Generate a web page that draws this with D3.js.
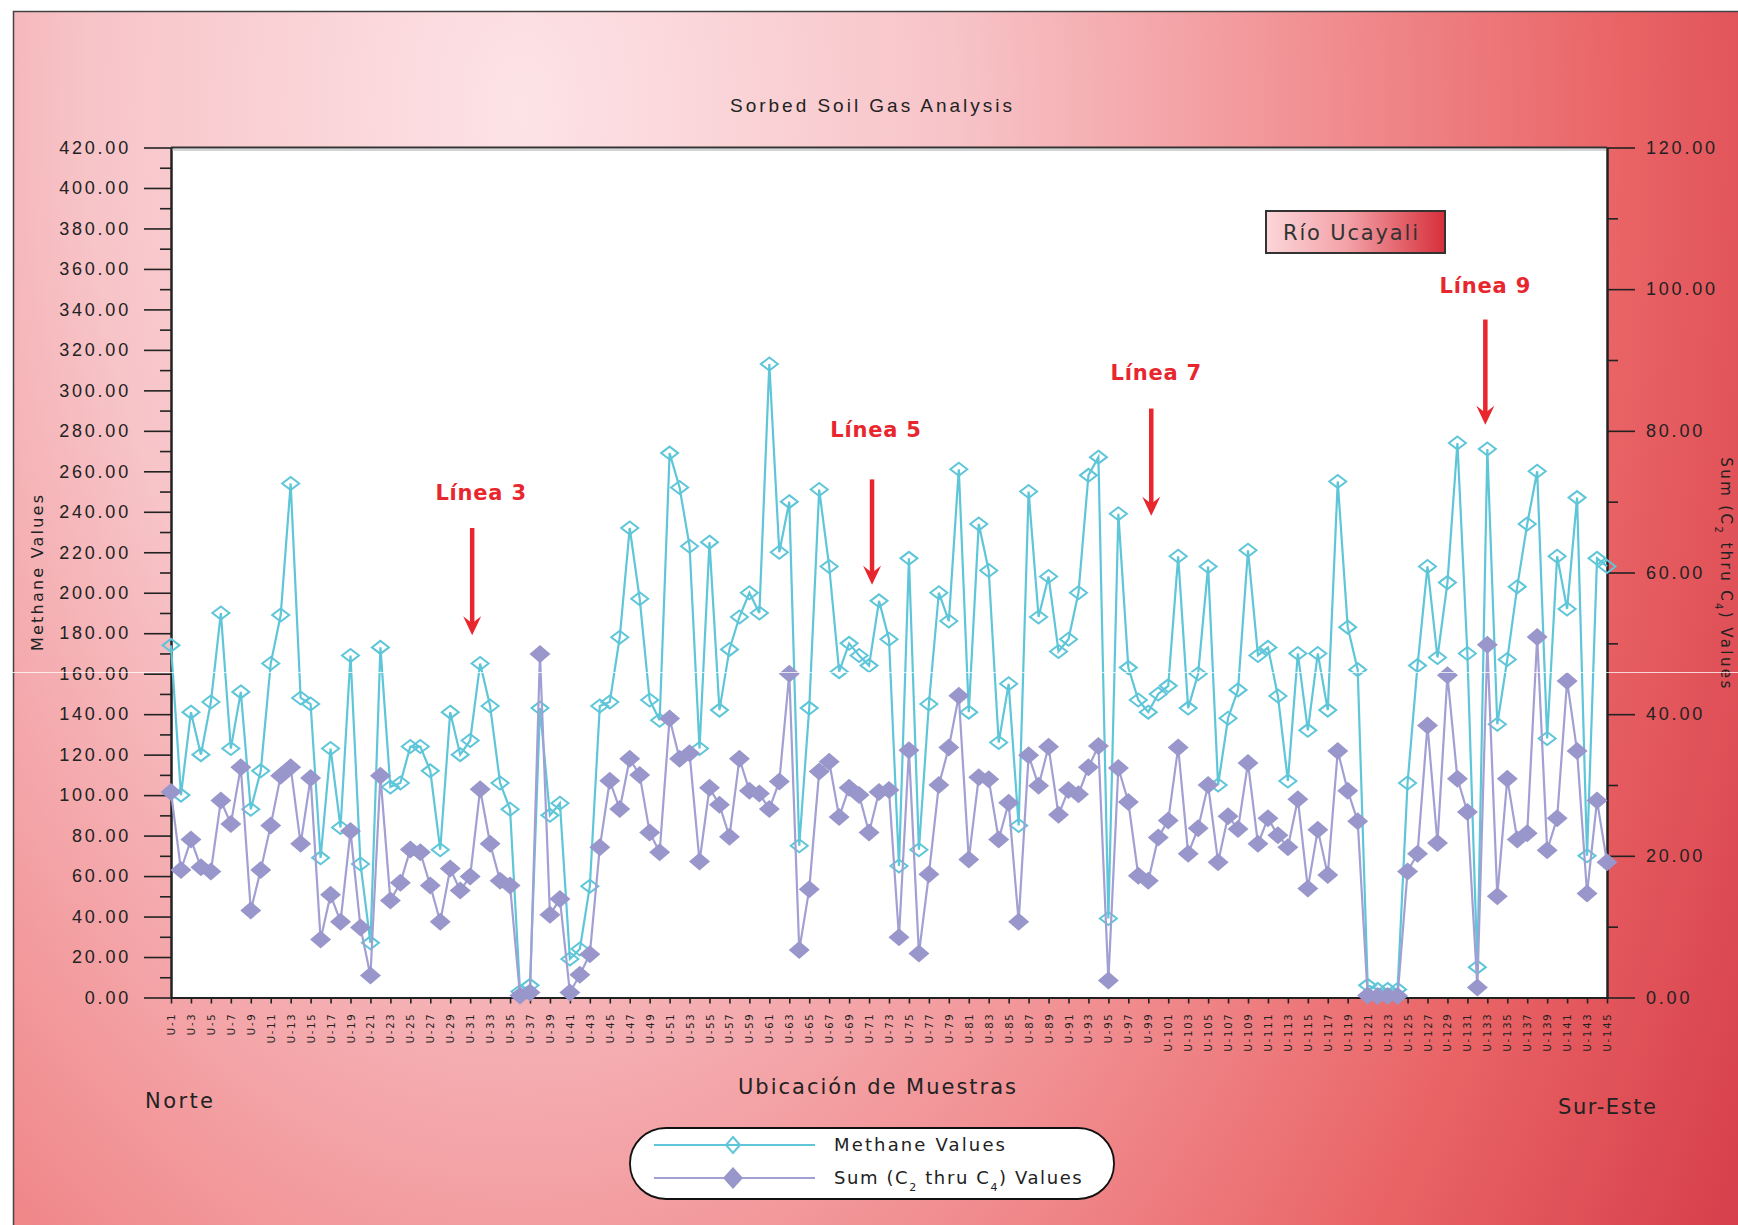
<!DOCTYPE html>
<html>
<head>
<meta charset="utf-8">
<script src="https://cdn.jsdelivr.net/npm/d3@7"></script>
<style>
  html, body { margin: 0; padding: 0; background: #ffffff; }
  svg { display: block; }
</style>
</head>
<body>
<svg id="chart" width="1738" height="1225"></svg>
<script>
// ---- Sample locations along the survey (Norte -> Sur-Este) ----
const samples = [
  "U-1","U-2","U-3","U-4","U-5","U-6","U-7","U-8","U-9","U-10",
  "U-11","U-12","U-13","U-14","U-15","U-16","U-17","U-18","U-19","U-20",
  "U-21","U-22","U-23","U-24","U-25","U-26","U-27","U-28","U-29","U-30",
  "U-31","U-32","U-33","U-34","U-35","U-36","U-37","U-38","U-39","U-40",
  "U-41","U-42","U-43","U-44","U-45","U-46","U-47","U-48","U-49","U-50",
  "U-51","U-52","U-53","U-54","U-55","U-56","U-57","U-58","U-59","U-60",
  "U-61","U-62","U-63","U-64","U-65","U-66","U-67","U-68","U-69","U-70",
  "U-71","U-72","U-73","U-74","U-75","U-76","U-77","U-78","U-79","U-80",
  "U-81","U-82","U-83","U-84","U-85","U-86","U-87","U-88","U-89","U-90",
  "U-91","U-92","U-93","U-94","U-95","U-96","U-97","U-98","U-99","U-100",
  "U-101","U-102","U-103","U-104","U-105","U-106","U-107","U-108","U-109","U-110",
  "U-111","U-112","U-113","U-114","U-115","U-116","U-117","U-118","U-119","U-120",
  "U-121","U-122","U-123","U-124","U-125","U-126","U-127","U-128","U-129","U-130",
  "U-131","U-132","U-133","U-134","U-135","U-136","U-137","U-138","U-139","U-140",
  "U-141","U-142","U-143","U-144","U-145"
];

// Every other sample carries a tick label on the x axis
const tickLabels = [
  "U-1","U-3","U-5","U-7","U-9","U-11","U-13","U-15","U-17","U-19",
  "U-21","U-23","U-25","U-27","U-29","U-31","U-33","U-35","U-37","U-39",
  "U-41","U-43","U-45","U-47","U-49","U-51","U-53","U-55","U-57","U-59",
  "U-61","U-63","U-65","U-67","U-69","U-71","U-73","U-75","U-77","U-79",
  "U-81","U-83","U-85","U-87","U-89","U-91","U-93","U-95","U-97","U-99",
  "U-101","U-103","U-105","U-107","U-109","U-111","U-113","U-115","U-117","U-119",
  "U-121","U-123","U-125","U-127","U-129","U-131","U-133","U-135","U-137","U-139",
  "U-141","U-143","U-145"
];

// Methane (left axis)
const methane = [
  174,100,141,120,146,190,123,151,93,112,
  165,189,254,148,145,69,123,84,169,66,
  27,173,104,106,124,124,112,73,141,120,
  127,165,144,106,93,3,6,143,90,96,
  19,24,55,144,146,178,232,197,147,137,
  269,252,223,123,225,142,172,188,200,190,
  313,220,245,75,143,251,213,161,175,169,
  164,196,177,65,217,73,145,200,186,261,
  141,234,211,126,155,85,250,188,208,171,
  177,200,258,267,39,239,163,147,141,150,
  154,218,143,160,213,105,138,152,221,169,
  173,149,107,170,132,170,142,255,183,162,
  6,4,4,4,106,164,213,168,205,274,
  170,15,271,135,167,203,234,260,128,218,
  192,247,70,217,213
];

// Sum of C2 thru C4 (right axis)
const sumC2C4 = [
  29,18,22.3,18.4,17.8,27.8,24.5,32.5,12.3,18,
  24.3,31.3,32.5,21.7,31,8.2,14.5,10.7,23.5,9.9,
  3.1,31.3,13.7,16.2,20.9,20.5,15.8,10.7,18.2,15.1,
  17.1,29.4,21.7,16.5,15.8,0.3,0.7,48.5,11.7,13.9,
  0.7,3.2,6.1,21.2,30.6,26.6,33.7,31.4,23.3,20.5,
  39.4,33.7,34.5,19.2,29.6,27.2,22.7,33.7,29.2,28.8,
  26.6,30.5,45.7,6.7,15.3,31.9,33.3,25.5,29.6,28.6,
  23.3,29,29.3,8.5,34.9,6.2,17.4,30,35.3,42.6,
  19.5,31.1,30.8,22.3,27.5,10.7,34.2,29.9,35.4,25.8,
  29.3,28.7,32.5,35.5,2.4,32.4,27.6,17.2,16.5,22.6,
  25,35.3,20.3,23.9,30,19.1,25.6,23.8,33.1,21.7,
  25.3,22.9,21.2,28,15.4,23.7,17.3,34.8,29.2,24.9,
  0.3,0.2,0.2,0.2,17.8,20.3,38.4,21.8,45.5,30.9,
  26.2,1.4,49.8,14.3,30.9,22.3,23.2,50.9,20.8,25.3,
  44.7,34.8,14.7,27.8,19.1
];

// Axis ticks
const methaneMajorTicks = [0,20,40,60,80,100,120,140,160,180,200,220,240,260,280,300,320,340,360,380,400,420];
const methaneMinorTicks = [10,30,50,70,90,110,130,150,170,190,210,230,250,270,290,310,330,350,370,390,410];
const sumMajorTicks = [0,20,40,60,80,100,120];
const sumMinorTicks = [10,30,50,70,90,110];

// Survey line call-outs: position along the sample axis and heights in methane units
const lineCallouts = [
  { text: "Línea 3", at: 30.2, textAt: 31.1, label: 246, from: 232, to: 179 },
  { text: "Línea 5", at: 70.3, textAt: 70.7, label: 277, from: 256, to: 204 },
  { text: "Línea 7", at: 98.3, textAt: 98.8, label: 305, from: 291, to: 238 },
  { text: "Línea 9", at: 131.8, textAt: 131.8, label: 348, from: 335, to: 283 }
];

// ---- Layout ----
const W = 1738, H = 1225;
const plot = { left: 171, right: 1607, top: 147.5, bottom: 997.5 };
const CYAN = "#5ec6d8", PURPLE = "#9896ca", PURPLE_LINE = "#a29fd3", RED = "#e8262d";
const INK = "#222";
const tickFont = "'Liberation Sans','Arial',sans-serif";
const textFont = "'DejaVu Sans',Verdana,sans-serif";

const svg = d3.select("#chart");
const defs = svg.append("defs");

// Panel background: light pink glow at upper left fading into red at lower right
const bg = defs.append("radialGradient")
  .attr("id", "panelBg")
  .attr("gradientUnits", "userSpaceOnUse")
  .attr("cx", 521).attr("cy", 111).attr("r", 1400)
  .attr("gradientTransform", "translate(521,111) scale(1,1.6) translate(-521,-111)");
[[0, "#fde3e6"], [0.31, "#f7c4c8"], [0.54, "#f29598"], [0.79, "#e96365"], [1, "#d63f4b"]]
  .forEach(([o, c]) => bg.append("stop").attr("offset", o).attr("stop-color", c));

const boxBg = defs.append("linearGradient").attr("id", "riverBox")
  .attr("x1", 0).attr("x2", 1).attr("y1", 0).attr("y2", 0);
[[0, "#fbd6d9"], [0.45, "#f3a2a8"], [1, "#d6303b"]]
  .forEach(([o, c]) => boxBg.append("stop").attr("offset", o).attr("stop-color", c));

svg.append("rect").attr("x", 13).attr("y", 11).attr("width", W - 13).attr("height", H - 11)
  .attr("fill", "url(#panelBg)");
svg.append("path").attr("d", `M13.5,${H} L13.5,11.5 L${W},11.5`)
  .attr("fill", "none").attr("stroke", "#444").attr("stroke-width", 1.5);

// Plot area
svg.append("rect")
  .attr("x", plot.left).attr("y", plot.top)
  .attr("width", plot.right - plot.left).attr("height", plot.bottom - plot.top)
  .attr("fill", "#ffffff");

// ---- Scales ----
const x = d3.scaleLinear().domain([0, samples.length - 1]).range([plot.left, plot.right]);
const yL = d3.scaleLinear().domain([0, 420]).range([plot.bottom, plot.top]);
const yR = d3.scaleLinear().domain([0, 120]).range([plot.bottom, plot.top]);

// ---- Axes ----
function styleAxis(g) {
  g.select(".domain").attr("stroke", INK).attr("stroke-width", 2);
  g.selectAll(".tick line").attr("stroke", INK).attr("stroke-width", 1.6);
}

// left minor + major
svg.append("g").attr("transform", `translate(${plot.left},0)`)
  .call(d3.axisLeft(yL).tickValues(methaneMinorTicks).tickSize(11).tickSizeOuter(0).tickFormat(""))
  .call(styleAxis);
const leftAxis = svg.append("g").attr("transform", `translate(${plot.left},0)`)
  .call(d3.axisLeft(yL).tickValues(methaneMajorTicks).tickSize(27).tickSizeOuter(0)
    .tickPadding(13).tickFormat(d3.format(".2f")))
  .call(styleAxis);
leftAxis.selectAll(".tick text")
  .attr("fill", INK).style("font-family", tickFont).style("font-size", "18px")
  .style("letter-spacing", "2.8px");

// right minor + major
svg.append("g").attr("transform", `translate(${plot.right},0)`)
  .call(d3.axisRight(yR).tickValues(sumMinorTicks).tickSize(11).tickSizeOuter(0).tickFormat(""))
  .call(styleAxis);
const rightAxis = svg.append("g").attr("transform", `translate(${plot.right},0)`)
  .call(d3.axisRight(yR).tickValues(sumMajorTicks).tickSize(28).tickSizeOuter(0)
    .tickPadding(11).tickFormat(d3.format(".2f")))
  .call(styleAxis);
rightAxis.selectAll(".tick text")
  .attr("fill", INK).style("font-family", tickFont).style("font-size", "18px")
  .style("letter-spacing", "2.8px");

// bottom axis with rotated sample names
const tickIdx = tickLabels.map(lbl => samples.indexOf(lbl));
const bottomAxis = svg.append("g").attr("transform", `translate(0,${plot.bottom})`)
  .call(d3.axisBottom(x).tickValues(tickIdx).tickSize(6).tickSizeOuter(0)
    .tickFormat(i => samples[i]))
  .call(styleAxis);
bottomAxis.selectAll(".tick text")
  .attr("transform", "rotate(-90)")
  .attr("x", -15).attr("y", 0).attr("dy", "0.35em")
  .style("text-anchor", "end")
  .attr("fill", INK).style("font-family", textFont).style("font-size", "10px")
  .style("letter-spacing", "1.8px");

// top frame of the plot with its soft shadow
svg.append("line").attr("x1", plot.left).attr("x2", plot.right)
  .attr("y1", plot.top).attr("y2", plot.top).attr("stroke", "#333").attr("stroke-width", 2);
svg.append("line").attr("x1", plot.left + 1).attr("x2", plot.right - 1)
  .attr("y1", plot.top + 2.5).attr("y2", plot.top + 2.5).attr("stroke", "#aaa").attr("stroke-width", 1.2);

// ---- Series ----
const diamond = (w, h) => `M0,${-h}L${w},0L0,${h}L${-w},0Z`;

const methaneLine = d3.line().x((d, i) => x(i)).y(d => yL(d));
const sumLine = d3.line().x((d, i) => x(i)).y(d => yR(d));

svg.append("path").datum(methane)
  .attr("d", methaneLine).attr("fill", "none")
  .attr("stroke", CYAN).attr("stroke-width", 2.2).attr("stroke-linejoin", "miter");
svg.append("g").selectAll("path").data(methane).join("path")
  .attr("transform", (d, i) => `translate(${x(i)},${yL(d)})`)
  .attr("d", diamond(8.5, 6.5))
  .attr("fill", "none").attr("stroke", CYAN).attr("stroke-width", 2);

svg.append("path").datum(sumC2C4)
  .attr("d", sumLine).attr("fill", "none")
  .attr("stroke", PURPLE_LINE).attr("stroke-width", 2.2);
svg.append("g").selectAll("path").data(sumC2C4).join("path")
  .attr("transform", (d, i) => `translate(${x(i)},${yR(d)})`)
  .attr("d", diamond(10.5, 9))
  .attr("fill", PURPLE);

// ---- Survey line call-outs ----
const callouts = svg.append("g");
lineCallouts.forEach(c => {
  const ax = x(c.at), tip = yL(c.to);
  callouts.append("line").attr("x1", ax).attr("x2", ax)
    .attr("y1", yL(c.from)).attr("y2", tip - 10)
    .attr("stroke", RED).attr("stroke-width", 4.5);
  callouts.append("path")
    .attr("d", `M${ax - 9},${tip - 19}L${ax},${tip - 12}L${ax + 9},${tip - 19}L${ax},${tip}Z`)
    .attr("fill", RED);
  callouts.append("text")
    .attr("x", x(c.textAt)).attr("y", yL(c.label))
    .attr("text-anchor", "middle")
    .attr("fill", RED).style("font-family", textFont).style("font-weight", "bold")
    .style("font-size", "21px").style("letter-spacing", "0.8px")
    .text(c.text);
});

// River marker box
svg.append("rect").attr("x", 1266).attr("y", 211).attr("width", 179).attr("height", 42)
  .attr("fill", "url(#riverBox)").attr("stroke", "#333").attr("stroke-width", 2);
svg.append("text").attr("x", 1283).attr("y", 240)
  .attr("fill", "#333").style("font-family", textFont).style("font-size", "21px")
  .attr("textLength", 135).attr("lengthAdjust", "spacing")
  .text("Río Ucayali");

// ---- Titles ----
svg.append("text").attr("x", 871).attr("y", 112).attr("text-anchor", "middle")
  .attr("fill", INK).style("font-family", tickFont).style("font-size", "19px")
  .attr("textLength", 282).attr("lengthAdjust", "spacing")
  .text("Sorbed Soil Gas Analysis");

svg.append("text").attr("transform", "translate(43,573) rotate(-90)")
  .attr("text-anchor", "middle").attr("fill", INK)
  .style("font-family", textFont).style("font-size", "16px")
  .attr("textLength", 156).attr("lengthAdjust", "spacing")
  .text("Methane Values");

const rt = svg.append("text").attr("transform", "translate(1721,574) rotate(90)")
  .attr("text-anchor", "middle").attr("fill", INK)
  .style("font-family", textFont).style("font-size", "15px").style("letter-spacing", "2.4px");
rt.append("tspan").text("Sum (C");
rt.append("tspan").attr("baseline-shift", "sub").style("font-size", "10px").text("2");
rt.append("tspan").text(" thru C");
rt.append("tspan").attr("baseline-shift", "sub").style("font-size", "10px").text("4");
rt.append("tspan").text(") Values");

svg.append("text").attr("x", 877).attr("y", 1094).attr("text-anchor", "middle")
  .attr("fill", INK).style("font-family", textFont).style("font-size", "21px")
  .attr("textLength", 278).attr("lengthAdjust", "spacing")
  .text("Ubicación de Muestras");

svg.append("text").attr("x", 145).attr("y", 1108)
  .attr("fill", INK).style("font-family", textFont).style("font-size", "21px")
  .attr("textLength", 68).attr("lengthAdjust", "spacing")
  .text("Norte");
svg.append("text").attr("x", 1558).attr("y", 1114)
  .attr("fill", INK).style("font-family", textFont).style("font-size", "21px")
  .attr("textLength", 98).attr("lengthAdjust", "spacing")
  .text("Sur-Este");

// ---- Legend ----
const legend = svg.append("g");
legend.append("rect").attr("x", 630).attr("y", 1128).attr("width", 484).attr("height", 71)
  .attr("rx", 36).attr("ry", 35)
  .attr("fill", "#ffffff").attr("stroke", "#111").attr("stroke-width", 1.8);

const legendRows = [
  { y: 1145, color: CYAN, open: true },
  { y: 1178, color: PURPLE_LINE, open: false }
];
legendRows.forEach(r => {
  legend.append("line").attr("x1", 654).attr("x2", 815).attr("y1", r.y).attr("y2", r.y)
    .attr("stroke", r.color).attr("stroke-width", 2);
  legend.append("path").attr("transform", `translate(733,${r.y})`)
    .attr("d", r.open ? diamond(7, 8) : diamond(10, 11))
    .attr("fill", r.open ? "none" : PURPLE)
    .attr("stroke", r.open ? CYAN : "none").attr("stroke-width", 2);
});
legend.append("text").attr("x", 834).attr("y", 1151)
  .attr("fill", INK).style("font-family", textFont).style("font-size", "18px")
  .attr("textLength", 171).attr("lengthAdjust", "spacing")
  .text("Methane Values");
const lt = legend.append("text").attr("x", 834).attr("y", 1184)
  .attr("fill", INK).style("font-family", textFont).style("font-size", "18px")
  .style("letter-spacing", "1.6px");
lt.append("tspan").text("Sum (C");
lt.append("tspan").attr("baseline-shift", "sub").style("font-size", "11px").text("2");
lt.append("tspan").text(" thru C");
lt.append("tspan").attr("baseline-shift", "sub").style("font-size", "11px").text("4");
lt.append("tspan").text(") Values");

// thin light scan line crossing the whole panel
svg.append("line").attr("x1", 0).attr("x2", W).attr("y1", 672.5).attr("y2", 672.5)
  .attr("stroke", "#ffffff").attr("stroke-width", 1).attr("opacity", 0.75);
</script>
</body>
</html>
